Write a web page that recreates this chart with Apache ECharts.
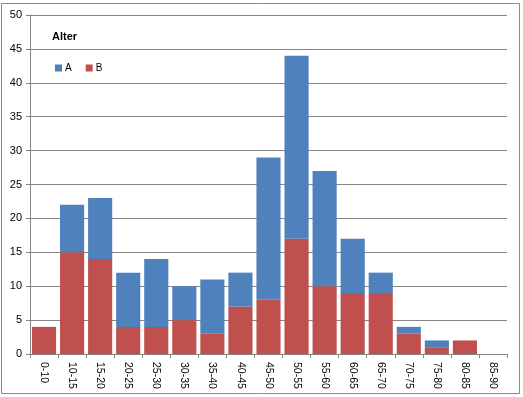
<!DOCTYPE html>
<html>
<head>
<meta charset="utf-8">
<script src="https://cdn.jsdelivr.net/npm/echarts@6/dist/echarts.min.js"></script>
<style>
  html, body { margin: 0; padding: 0; background: #fff; }
  #chart { width: 523px; height: 397px; }
</style>
</head>
<body>
<div id="chart"></div>
<script>
  // Altersgruppen
  var categories = ['0-10', '10-15', '15-20', '20-25', '25-30', '30-35', '35-40', '40-45', '45-50',
    '50-55', '55-60', '60-65', '65-70', '70-75', '75-80', '80-85', '85-90'];
  var seriesA = [0, 7, 9, 8, 10, 5, 8, 5, 21, 27, 17, 8, 3, 1, 1, 0, 0];
  var seriesB = [4, 15, 14, 4, 4, 5, 3, 7, 8, 17, 10, 9, 9, 3, 1, 2, 0];

  var myChart = echarts.init(document.getElementById('chart'));
  var font = 'Liberation Sans, Arial, sans-serif';

  var option = {
    animation: false,
    textStyle: { fontFamily: font },
    graphic: [
      {
        type: 'rect',
        shape: { x: 1.5, y: 3.5, width: 518, height: 390 },
        style: { fill: 'none', stroke: '#8a8a8a', lineWidth: 1 },
        silent: true
      },
      {
        type: 'text',
        left: 52, top: 31,
        style: { text: 'Alter', font: 'bold 11px ' + font, fill: '#000' }
      }
    ],
    legend: {
      data: ['A', 'B'],
      left: 50, top: 58,
      itemWidth: 7, itemHeight: 7,
      itemGap: 14,
      icon: 'rect',
      textStyle: { fontSize: 10, color: '#000', padding: [0, 0, 0, -2] }
    },
    grid: { left: 30, right: 16, top: 15, bottom: 43 },
    xAxis: {
      type: 'category',
      data: categories,
      axisLine: { lineStyle: { color: '#868686' } },
      axisTick: { show: true, length: 4, lineStyle: { color: '#868686' } },
      axisLabel: { rotate: -90, color: '#000', fontSize: 10.5, margin: 8 }
    },
    yAxis: {
      type: 'value',
      min: 0, max: 50, interval: 5,
      axisLine: { show: true, lineStyle: { color: '#868686' } },
      axisTick: { show: true, length: 4, lineStyle: { color: '#868686' } },
      axisLabel: { color: '#000', fontSize: 11, margin: 8 },
      splitLine: { lineStyle: { color: '#868686' } }
    },
    series: [
      {
        name: 'B', type: 'bar', stack: 'total',
        data: seriesB,
        barCategoryGap: '14%',
        itemStyle: { color: '#C0504D' }
      },
      {
        name: 'A', type: 'bar', stack: 'total',
        data: seriesA,
        barCategoryGap: '14%',
        itemStyle: { color: '#4F81BD' }
      }
    ]
  };

  myChart.setOption(option);
</script>
</body>
</html>
